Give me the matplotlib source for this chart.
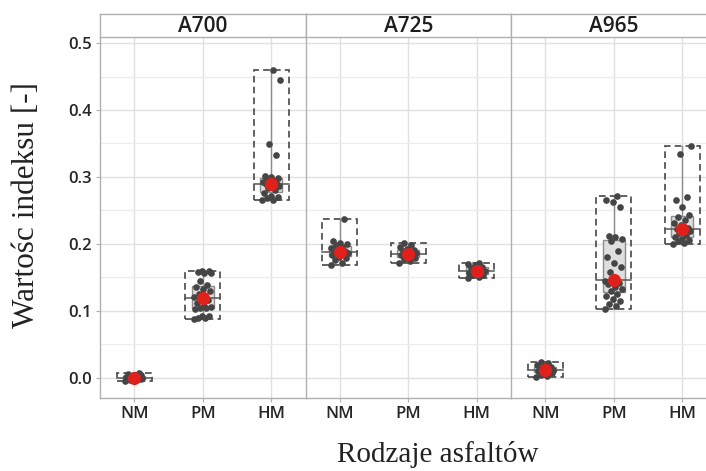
import numpy as np
import matplotlib
matplotlib.use("Agg")
import matplotlib.pyplot as plt
from matplotlib.patches import Rectangle

# Index values per asphalt and modification type
panels = ["A700", "A725", "A965"]
categories = ["NM", "PM", "HM"]

a700_nm = [-0.004, -0.003, -0.003, -0.002, -0.002, -0.001, -0.001, 0.0, 0.0, 0.0,
           0.0, 0.001, 0.001, 0.002, 0.002, 0.003, 0.004, 0.005, 0.006, 0.007]
a700_pm = [0.088, 0.089, 0.090, 0.092, 0.093, 0.103, 0.104, 0.105, 0.106, 0.108,
           0.112, 0.116, 0.119, 0.121, 0.122, 0.125, 0.130, 0.133, 0.136, 0.138,
           0.145, 0.156, 0.157, 0.158, 0.159, 0.160]
a700_hm = [0.265, 0.266, 0.268, 0.270, 0.272, 0.276, 0.280, 0.283, 0.286, 0.288,
           0.289, 0.290, 0.291, 0.292, 0.294, 0.296, 0.298, 0.300, 0.302, 0.333,
           0.349, 0.445, 0.459]
a725_nm = [0.169, 0.172, 0.176, 0.179, 0.181, 0.183, 0.185, 0.186, 0.187, 0.188,
           0.189, 0.190, 0.192, 0.194, 0.196, 0.198, 0.200, 0.202, 0.204, 0.237]
a725_pm = [0.172, 0.174, 0.177, 0.179, 0.181, 0.183, 0.184, 0.185, 0.186, 0.187,
           0.189, 0.191, 0.193, 0.195, 0.198, 0.202]
a725_hm = [0.149, 0.151, 0.153, 0.154, 0.155, 0.157, 0.158, 0.159, 0.160, 0.162,
           0.164, 0.166, 0.168, 0.170, 0.172]
a965_nm = [0.001, 0.003, 0.005, 0.007, 0.009, 0.010, 0.011, 0.012, 0.012, 0.013,
           0.014, 0.016, 0.018, 0.020, 0.022, 0.024]
a965_pm = [0.103, 0.107, 0.111, 0.115, 0.118, 0.122, 0.126, 0.130, 0.133, 0.136,
           0.140, 0.142, 0.144, 0.145, 0.148, 0.158, 0.165, 0.172, 0.180, 0.190,
           0.205, 0.208, 0.210, 0.212, 0.255, 0.262, 0.265, 0.272]
a965_hm = [0.200, 0.202, 0.204, 0.206, 0.208, 0.210, 0.213, 0.216, 0.219, 0.221,
           0.222, 0.224, 0.228, 0.232, 0.236, 0.240, 0.243, 0.255, 0.265, 0.270,
           0.335, 0.347]

data = {
    "A700": [a700_nm, a700_pm, a700_hm],
    "A725": [a725_nm, a725_pm, a725_hm],
    "A965": [a965_nm, a965_pm, a965_hm],
}

yticks = [0.0, 0.1, 0.2, 0.3, 0.4, 0.5]
ytick_labels = ["0.0", "0.1", "0.2", "0.3", "0.4", "0.5"]

SANS = ["Open Sans", "DejaVu Sans"]
SERIF = ["Liberation Serif", "DejaVu Serif"]
TICK_COL = "#262626"
FRAME_COL = "#b0b0b0"

fig = plt.figure(figsize=(7.06, 4.71), dpi=100)

W, H = 706.0, 471.0
left_px, panel_w = 100.0, 205.5
bottom_px, top_px, strip_top_px = 398.0, 37.0, 14.0

for i, name in enumerate(panels):
    x0 = (left_px + i * panel_w) / W
    ax = fig.add_axes([x0, 1 - bottom_px / H, panel_w / W, (bottom_px - top_px) / H])

    for j, vals in enumerate(data[name]):
        pos = j + 1
        v = np.asarray(vals)
        lo, hi = v.min(), v.max()
        med = np.median(v)
        # dashed range rectangle
        ax.add_patch(Rectangle((pos - 0.255, lo), 0.51, hi - lo, fill=False,
                               linestyle=(0, (4, 2.5)), edgecolor="#474747",
                               linewidth=1.2, zorder=2))
        # box with whiskers to the extremes
        ax.boxplot([v], positions=[pos], widths=0.32, whis=(0, 100),
                   patch_artist=True, showfliers=False, showcaps=False,
                   manage_ticks=False,
                   boxprops=dict(facecolor="#dedede", edgecolor="#8c8c8c",
                                 linewidth=1.0),
                   whiskerprops=dict(color="#8c8c8c", linewidth=1.0),
                   medianprops=dict(color="#8c8c8c", linewidth=0),
                   zorder=3)
        ax.plot([pos - 0.255, pos + 0.255], [med, med], color="#555555",
                linewidth=1.1, zorder=3.5)
        # jittered observations
        n = len(v)
        offs = (((np.arange(n) * 0.618034) % 1.0) - 0.5) * 0.26
        ax.plot(pos + offs, v, "o", color="#454545", markersize=4.8,
                markeredgewidth=0, zorder=4)
        ax.plot([pos], [med], "o", color="#e0201b", markersize=9.5,
                markeredgewidth=0, zorder=5)

    ax.set_xlim(0.5, 3.5)
    ax.set_ylim(-0.030, 0.509)
    ax.set_yticks(yticks)
    ax.set_yticks([0.05, 0.15, 0.25, 0.35, 0.45], minor=True)
    ax.set_xticks([1, 2, 3])
    ax.set_xticklabels(categories, family=SANS, fontsize=12, fontweight="semibold",
                       color=TICK_COL)
    if i == 0:
        ax.set_yticklabels(ytick_labels, family=SANS, fontsize=12,
                           fontweight="semibold", color=TICK_COL)
    else:
        ax.tick_params(axis="y", which="both", left=False, labelleft=False)
    ax.tick_params(axis="y", which="minor", left=False)
    ax.tick_params(axis="both", which="major", length=3, color=FRAME_COL, pad=3)
    ax.grid(True, which="major", color="#e0e0e0", linewidth=1.0)
    ax.grid(True, which="minor", axis="y", color="#ececec", linewidth=0.9)
    ax.set_axisbelow(True)
    for side in ["top", "right"]:
        ax.spines[side].set_visible(False)
    for side in ["left", "bottom"]:
        ax.spines[side].set_color(FRAME_COL)
        ax.spines[side].set_linewidth(1.0)

    # strip header
    sax = fig.add_axes([x0, 1 - top_px / H, panel_w / W, (top_px - strip_top_px) / H])
    sax.set_xticks([])
    sax.set_yticks([])
    for sp in sax.spines.values():
        sp.set_color(FRAME_COL)
        sp.set_linewidth(1.0)
    sax.text(0.5, 0.45, name, transform=sax.transAxes, ha="center", va="center",
             family=SANS, fontsize=15, fontweight="semibold", color="#1e1e1e")

fig.text(27 / W, 1 - 205 / H, "Wartośc indeksu [-]", rotation=90, ha="center",
         va="center", family=SERIF, fontsize=22.5, color="#222222")
fig.text(438 / W, 1 - 455 / H, "Rodzaje asfaltów", ha="center", va="center",
         family=SERIF, fontsize=21, color="#222222")

fig.savefig("out.png", dpi=100)
